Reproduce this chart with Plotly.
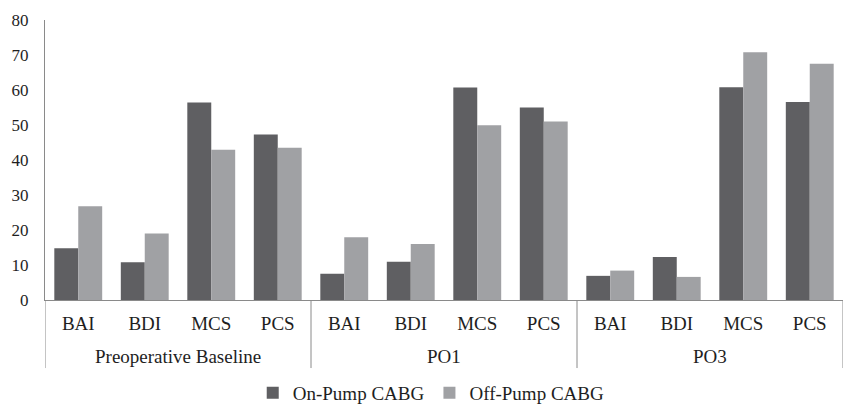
import plotly.graph_objects as go

groups = ["Preoperative Baseline", "PO1", "PO3"]
measures = ["BAI", "BDI", "MCS", "PCS"]

on_pump = [14.8, 10.8, 56.4, 47.3,
           7.5, 10.9, 60.7, 55.0,
           6.9, 12.3, 60.8, 56.6]
off_pump = [26.8, 19.0, 42.9, 43.5,
            17.9, 16.0, 49.9, 51.0,
            8.4, 6.6, 70.8, 67.5]

n_m = len(measures)
x_pos = list(range(len(groups) * n_m))
x_text = [m for _ in groups for m in measures]

FONT = "Times New Roman, Liberation Serif, DejaVu Serif, serif"
TXT = "#1e1e1e"
AX = "#8a8a8a"

fig = go.Figure()
fig.add_trace(go.Bar(x=x_pos, y=on_pump, name="On-Pump CABG",
                     marker=dict(color="#5f5f62", line=dict(width=0))))
fig.add_trace(go.Bar(x=x_pos, y=off_pump, name="Off-Pump CABG",
                     marker=dict(color="#a0a1a4", line=dict(width=0))))

# group labels and dividers, derived from the category positions
for gi, g in enumerate(groups):
    idx = x_pos[gi * n_m:(gi + 1) * n_m]
    fig.add_annotation(x=sum(idx) / len(idx), y=-0.2, xref="x", yref="paper",
                       text=g, showarrow=False, yanchor="middle",
                       font=dict(family=FONT, size=19, color=TXT))
for gi in range(len(groups) + 1):
    bx = gi * n_m - 0.5
    fig.add_shape(type="line", xref="x", yref="paper", x0=bx, x1=bx, y0=0, y1=-0.243,
                  line=dict(color=AX, width=1))

fig.update_layout(
    width=846, height=404,
    margin=dict(l=45, r=3, t=20, b=104, autoexpand=False),
    paper_bgcolor="white", plot_bgcolor="white",
    barmode="group", bargap=0.28, bargroupgap=0,
    font=dict(family=FONT, size=19, color=TXT),
    showlegend=True,
    legend=dict(orientation="h", x=0.484, xanchor="center", y=-0.332, yanchor="middle",
                font=dict(family=FONT, size=19, color=TXT),
                itemwidth=30, tracegroupgap=0),
    xaxis=dict(range=[-0.5, len(x_pos) - 0.5], tickmode="array", tickvals=x_pos,
               ticktext=x_text, showline=True, linecolor=AX, linewidth=1,
               ticks="", showgrid=False, zeroline=False, ticklabelstandoff=6,
               automargin=False,
               tickfont=dict(family=FONT, size=19, color=TXT)),
    yaxis=dict(range=[0, 80], dtick=10, showline=True, linecolor=AX, linewidth=1,
               showgrid=False, zeroline=False, ticks="", ticklabelstandoff=12,
               automargin=False,
               tickfont=dict(family=FONT, size=17, color=TXT)),
)

fig.write_html("out.html", config={"displayModeBar": False},
               post_script="document.body.style.margin='0px';")
